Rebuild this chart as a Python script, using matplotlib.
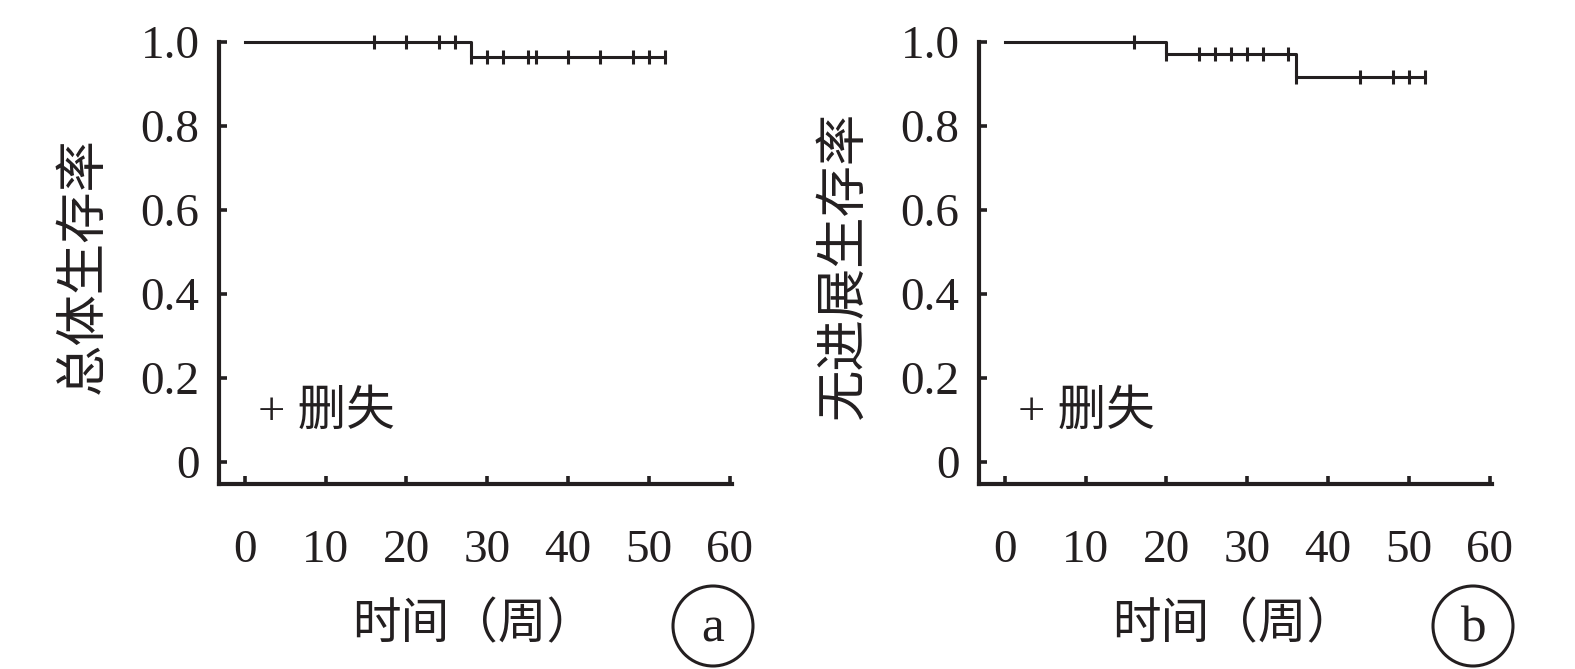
import numpy as np
import matplotlib
matplotlib.use("Agg")
import matplotlib.pyplot as plt
from matplotlib.patches import Ellipse

plt.rcParams['font.family'] = ['Liberation Serif', 'Noto Sans CJK SC', 'DejaVu Sans']

# 总体生存 (a)
step_t_a = [0, 28]
surv_a = [1.0, 0.964]
end_a = 52
censor_a = [16, 20, 24, 26, 28, 30, 32, 35, 36, 40, 44, 48, 50, 52]

# 无进展生存 (b)
step_t_b = [0, 20, 36]
surv_b = [1.0, 0.971, 0.917]
end_b = 52
censor_b = [16, 20, 24, 26, 28, 30, 32, 35, 36, 44, 48, 50, 52]

x_ticks = [0, 10, 20, 30, 40, 50, 60]
y_ticks = [0, 0.2, 0.4, 0.6, 0.8, 1.0]
y_ticklabels = ["0", "0.2", "0.4", "0.6", "0.8", "1.0"]

panels = [
    ("总体生存率", step_t_a, surv_a, end_a, censor_a, "a"),
    ("无进展生存率", step_t_b, surv_b, end_b, censor_b, "b"),
]

W, H = 1575, 669
fig = plt.figure(figsize=(W / 100, H / 100), dpi=100)

lefts = [219, 979]
ax_w, ax_top, ax_bot = 513, 42, 484
ink = "#231f20"

for left, (ylab, st, sv, end, cens, tag) in zip(lefts, panels):
    ax = fig.add_axes([left / W, 1 - ax_bot / H, ax_w / W, (ax_bot - ax_top) / H])

    xs = list(st) + [end]
    ys = list(sv) + [sv[-1]]
    ax.step(xs, ys, where="post", color=ink, lw=2.2, clip_on=False)

    # 删失标记
    idx = np.searchsorted(st, cens, side="right") - 1
    cy = np.array(sv)[idx]
    ax.plot(cens, cy, ls="none", marker="|", ms=10, mew=2.2, color=ink, clip_on=False)

    ax.set_xlim(-3.2, 60.3)
    ax.set_ylim(-0.053, 1.0)
    for s in ["top", "right"]:
        ax.spines[s].set_visible(False)
    for s in ["left", "bottom"]:
        ax.spines[s].set_linewidth(3.0)
        ax.spines[s].set_color(ink)
        ax.spines[s].set_capstyle("projecting")

    ax.set_xticks(x_ticks)
    ax.set_yticks(y_ticks)
    ax.set_yticklabels(y_ticklabels)
    ax.tick_params(axis="both", direction="in", length=6, width=2.6, color=ink,
                   labelsize=34, labelcolor=ink)
    ax.tick_params(axis="y", pad=14)
    ax.tick_params(axis="x", pad=33)

    ax.text(-0.261, 0.495, ylab, transform=ax.transAxes, rotation=90,
            ha="center", va="center", fontsize=37, color=ink, fontweight="light")
    ax.text(0.497, -0.319, "时间（周）", transform=ax.transAxes,
            ha="center", va="center", fontsize=35, color=ink, fontweight="light")
    ax.text(1.6, 0.116, "+ 删失", ha="left", va="center", fontsize=35,
            color=ink, fontweight="light")

    cx = left + 494
    cyp = 626
    fig.add_artist(Ellipse((cx / W, 1 - cyp / H), 80 / W, 80 / H, transform=fig.transFigure,
                           fill=False, lw=2.2, ec=ink))
    fig.text(cx / W, 1 - (cyp + 3) / H, tag, ha="center", va="center", fontsize=37,
             color=ink)

fig.savefig("out.png", dpi=100)
